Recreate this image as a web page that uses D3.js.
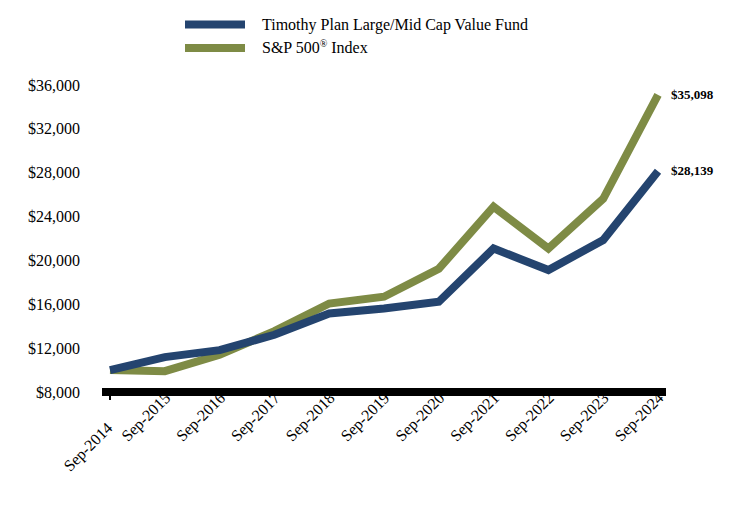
<!DOCTYPE html>
<html>
<head>
<meta charset="utf-8">
<script src="https://cdn.jsdelivr.net/npm/d3@7"></script>
<style>
  html, body { margin: 0; padding: 0; background: #fff; }
  svg { display: block; font-family: "Liberation Serif", "Times New Roman", serif; }
</style>
</head>
<body>
<svg id="chart" width="744" height="516"></svg>
<script>
const categories = ["Sep-2014","Sep-2015","Sep-2016","Sep-2017","Sep-2018","Sep-2019","Sep-2020","Sep-2021","Sep-2022","Sep-2023","Sep-2024"];
const fundValues = [10000, 11180, 11820, 13220, 15160, 15620, 16230, 21090, 19120, 21860, 28139];
const spValues   = [10000,  9900, 11400, 13550, 16070, 16690, 19240, 24900, 21090, 25620, 35098];
const yTicks = [8000, 12000, 16000, 20000, 24000, 28000, 32000, 36000];
const seriesNames = ["Timothy Plan Large/Mid Cap Value Fund", "S&P 500"];
const endLabels = ["$28,139", "$35,098"];

const colors = ["#24446F", "#7E8B45"];
const svg = d3.select("#chart");

const x = d3.scalePoint().domain(categories).range([110, 658]);
const y = d3.scaleLinear().domain([8000, 36000]).range([392, 85]);
const fmt = v => "$" + d3.format(",")(v);

// Y axis labels (no line)
const yAxis = svg.append("g")
  .attr("transform", "translate(83,0)")
  .call(d3.axisLeft(y).tickValues(yTicks).tickFormat(fmt).tickSize(0).tickPadding(3));
yAxis.select(".domain").remove();
yAxis.selectAll("text")
  .attr("font-family", "Liberation Serif, Times New Roman, serif")
  .attr("font-size", "16px").attr("fill", "#000");

// X axis labels
const xAxis = svg.append("g")
  .attr("transform", "translate(0,392)")
  .call(d3.axisBottom(x).tickSize(0).tickPadding(0));
xAxis.select(".domain").remove();
xAxis.selectAll("text")
  .attr("font-family", "Liberation Serif, Times New Roman, serif")
  .attr("font-size", "16px").attr("fill", "#000")
  .attr("text-anchor", "end")
  .attr("dy", 0)
  .attr("transform", (d, i) => i === 0 ? "translate(3,37) rotate(-45)" : "translate(6,7) rotate(-45)");

// Lines (S&P first, fund on top)
const line = d3.line().x((d, i) => x(categories[i])).y(d => y(d));
[[spValues, 1], [fundValues, 0]].forEach(([vals, k]) => {
  svg.append("path")
    .datum(vals)
    .attr("d", line)
    .attr("fill", "none")
    .attr("stroke", colors[k])
    .attr("stroke-width", 8)
    .attr("stroke-linejoin", "miter")
    .attr("stroke-linecap", "butt");
});

// thick baseline bar drawn on top of labels
svg.append("line")
  .attr("x1", 102).attr("x2", 666)
  .attr("y1", y(8000)).attr("y2", y(8000))
  .attr("stroke", "#000").attr("stroke-width", 8);
svg.append("line")
  .attr("x1", x(categories[0])).attr("x2", x(categories[0]))
  .attr("y1", y(8000)).attr("y2", y(8000) + 8)
  .attr("stroke", "#000").attr("stroke-width", 2);

// End labels
[fundValues, spValues].forEach((vals, k) => {
  const last = vals[vals.length - 1];
  svg.append("text")
    .attr("x", 671).attr("y", y(last) + 1)
    .attr("dominant-baseline", "middle")
    .attr("font-size", "13px").attr("font-weight", "bold")
    .attr("fill", "#000")
    .text(endLabels[k]);
});

// Legend
const legendY = [24.5, 48];
seriesNames.forEach((name, k) => {
  svg.append("line")
    .attr("x1", 185).attr("x2", 245)
    .attr("y1", legendY[k]).attr("y2", legendY[k])
    .attr("stroke", colors[k]).attr("stroke-width", 8);
  const t = svg.append("text")
    .attr("x", 262).attr("y", legendY[k] + 5)
    .attr("font-size", "16px").attr("fill", "#000");
  if (k === 1) {
    t.append("tspan").text(name);
    t.append("tspan").attr("font-size", "10px").attr("dy", -6).text("®");
    t.append("tspan").attr("dy", 6).text(" Index");
  } else {
    t.text(name);
  }
});
</script>
</body>
</html>
